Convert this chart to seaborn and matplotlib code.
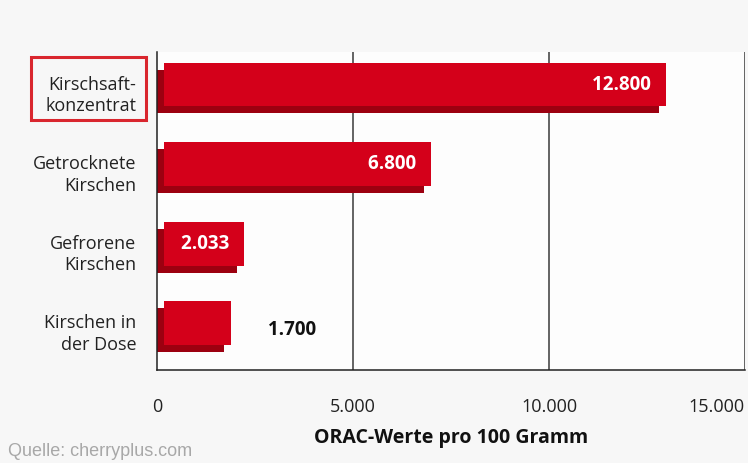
import matplotlib
matplotlib.use('Agg')
import matplotlib.pyplot as plt
import matplotlib.transforms as mtransforms
from matplotlib.patches import Rectangle
import seaborn as sns

# data
kategorien = ['Kirschsaft-\nkonzentrat', 'Getrocknete\nKirschen', 'Gefrorene\nKirschen', 'Kirschen in\nder Dose']
orac_werte = [12800, 6800, 2033, 1700]
wert_labels = ['12.800', '6.800', '2.033', '1.700']
x_ticks = [0, 5000, 10000, 15000]
x_ticklabels = ['0', '5.000', '10.000', '15.000']

rot = '#d4001a'
dunkelrot = '#9c0010'

sns.set_style('white')
plt.rcParams['font.family'] = ['Open Sans', 'DejaVu Sans']

fig = plt.figure(figsize=(7.48, 4.63), dpi=100, facecolor='#f7f7f7')
ax = fig.add_axes([0.21, 0.201, 0.786, 0.687])
ax.set_facecolor('#fdfdfd')

# Schatten (dunkel) und Balken (rot, versetzt nach rechts oben)
sns.barplot(x=orac_werte, y=kategorien, orient='h', color=dunkelrot, width=0.55,
            saturation=1, linewidth=0, edgecolor='none', ax=ax)
sns.barplot(x=orac_werte, y=kategorien, orient='h', color=rot, width=0.55,
            saturation=1, linewidth=0, edgecolor='none', ax=ax)
versatz = mtransforms.ScaledTranslation(7 / 100, 7 / 100, fig.dpi_scale_trans)
for p in ax.patches[len(orac_werte):]:
    p.set_transform(ax.transData + versatz)

ax.set_xlim(0, 15000)
ax.set_ylim(3.5, -0.5)

# Gitterlinien
for x in x_ticks[1:]:
    ax.axvline(x, color='#3a3a3a', lw=1.1, zorder=0)

# Wertebeschriftung
for i, (v, lab) in enumerate(zip(orac_werte, wert_labels)):
    if i < 3:
        ax.text(v, i, lab + '   ', ha='right', va='center', color='white',
                fontsize=13.5, fontweight='bold', transform=ax.transData + versatz)
    else:
        ax.text(v, i, '         ' + lab, ha='left', va='center', color='#111111',
                fontsize=13.5, fontweight='bold')

# Achsen
for s in ['top', 'right']:
    ax.spines[s].set_visible(False)
for s in ['left', 'bottom']:
    ax.spines[s].set_color('#222222')
    ax.spines[s].set_linewidth(1.1)

ax.set_xticks(x_ticks)
ax.set_xticklabels(x_ticklabels, fontsize=13, color='#222222')
ax.get_xticklabels()[-1].set_ha('right')
ax.tick_params(axis='x', direction='out', length=8, width=1, color='#222222', pad=12)

ax.set_yticks(range(len(kategorien)))
ax.set_yticklabels(kategorien, fontsize=13, linespacing=1.25, color='#222222',
                   multialignment='right')
ax.tick_params(axis='y', which='major', length=0, pad=15)
ax.set_yticks([-0.5, 0.5, 1.5, 2.5, 3.5], minor=True)
ax.tick_params(axis='y', which='minor', direction='out', length=9, width=1, color='#222222')

ax.set_xlabel('ORAC-Werte pro 100 Gramm', fontsize=14, fontweight='bold', labelpad=9,
              color='#111111')
ax.set_ylabel('')

# roter Rahmen um erste Kategorie
fig.add_artist(Rectangle((31 / 748, 1 - 120 / 463), 115 / 748, 63 / 463,
                         transform=fig.transFigure, fill=False, ec='#d9262e', lw=2.2))

fig.text(0.011, 0.006, 'Quelle: cherryplus.com', color='#a8a8a8', fontsize=13,
         family=['Liberation Sans', 'DejaVu Sans'], ha='left', va='bottom')

fig.savefig('out.png', dpi=100, facecolor=fig.get_facecolor())
